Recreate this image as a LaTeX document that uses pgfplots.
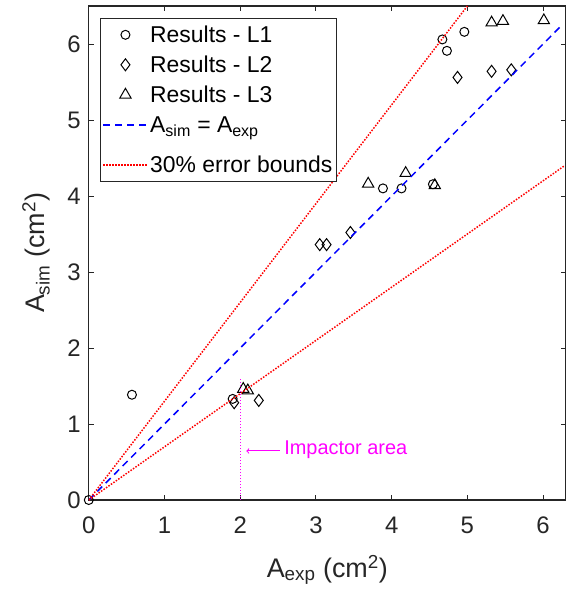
\documentclass[border=0pt]{standalone}
\usepackage{fontspec}
\setmainfont{Liberation Sans}
\usepackage{pgfplots}
\pgfplotsset{compat=1.18}
\definecolor{axgray}{RGB}{38,38,38}
\definecolor{mag}{RGB}{255,0,255}
\pgfplotsset{raised image/.style={legend image code/.code={\draw[##1] (0bp,5bp) -- (44bp,5bp);}}}

\begin{document}
\begin{tikzpicture}
\begin{axis}[
    scale only axis, width=477bp, height=494bp,
    xmin=0, xmax=6.3, ymin=0, ymax=6.5,
    xtick={0,...,6}, ytick={0,...,6},
    tick align=inside, major tick length=5bp,
    axis line style={axgray, line width=1.1pt},
    every tick/.style={axgray, line width=0.9pt},
    /pgf/number format/assume math mode=true,
    ticklabel style={font=\fontsize{24}{28}\selectfont, text=axgray},
    xticklabel style={anchor=base, yshift=-33bp},
    yticklabel style={anchor=east, inner sep=0pt, xshift=-8bp},
    label style={font=\fontsize{27}{32}\selectfont, text=axgray},
    xlabel={A\textsubscript{exp} (cm\textsuperscript{2})},
    ylabel={A\textsubscript{sim} (cm\textsuperscript{2})},
    xlabel style={at={(axis description cs:0.5,0)}, anchor=base, yshift=-77bp},
    ylabel style={at={(axis description cs:-0.093,0.5)}, anchor=base},
    clip mode=individual,
    legend style={font=\fontsize{23}{26}\selectfont, draw=axgray, line width=0.9pt,
        at={(0.024,0.976)}, anchor=north west, inner xsep=2bp, inner ysep=4bp,
        row sep=5bp},
    legend cell align=left,
    legend image code/.code={\draw[mark repeat=2, mark phase=2, #1]
        plot coordinates {(0bp,0bp) (22bp,0bp) (44bp,0bp)};},
]
% results
\addplot[only marks, mark=o, mark size=4.5bp, line width=1pt] coordinates {
    (0,0) (0.57,1.385) (1.90,1.33) (3.885,4.10) (4.13,4.10) (4.545,4.155)
    (4.67,6.06) (4.73,5.91) (4.96,6.16)};
\addlegendentry[inner ysep=0pt, text height=20bp, text depth=5bp]{Results - L1}
\addplot[only marks, mark=diamond, mark size=6bp, line width=1pt] coordinates {
    (1.92,1.28) (2.245,1.31) (3.05,3.36) (3.14,3.36) (3.455,3.52)
    (4.87,5.56) (5.32,5.64) (5.58,5.66)};
\addlegendentry[inner ysep=0pt, text height=20bp, text depth=5bp]{Results - L2}
\addplot[only marks, mark=triangle, mark size=6.5bp, line width=1pt] coordinates {
    (2.04,1.46) (2.10,1.44) (3.69,4.16) (4.185,4.30) (4.57,4.14)
    (5.32,6.28) (5.47,6.30) (6.01,6.31)};
\addlegendentry[inner ysep=0pt, text height=20bp, text depth=5bp]{Results - L3}
% reference lines
\addplot[blue, line width=1.5pt, dash pattern=on 7bp off 5bp, raised image]
    coordinates {(0,0) (6.25,6.25)};
\addlegendentry[inner ysep=0pt, text height=20bp, text depth=15bp]{A\textsubscript{sim} = A\textsubscript{exp}}
\addplot[red, line width=1.5pt, dash pattern=on 1.5bp off 1.5bp] coordinates {(0,0) (5,6.5)};
\addlegendentry[inner ysep=0pt, text height=20bp, text depth=5bp]{30\% error bounds}
\addplot[red, line width=1.5pt, dash pattern=on 1.5bp off 1.5bp, forget plot] coordinates {(0,0) (6.28,4.396)};
% impactor area
\addplot[mag, line width=1.2pt, dash pattern=on 1.5bp off 1.5bp, forget plot] coordinates {(2,0) (2,1.6)};
\addplot[mag, line width=1pt, -to, forget plot] coordinates {(2.52,0.645) (2.08,0.645)};
\node[anchor=west, text=mag, font=\fontsize{20}{24}\selectfont, inner sep=0pt] at (axis cs:2.58,0.66) {Impactor area};
\end{axis}
\path (current axis.south west) ++(-88.8bp,-96bp);
\path (current axis.north east) ++(7bp,6bp);
\end{tikzpicture}
\end{document}
